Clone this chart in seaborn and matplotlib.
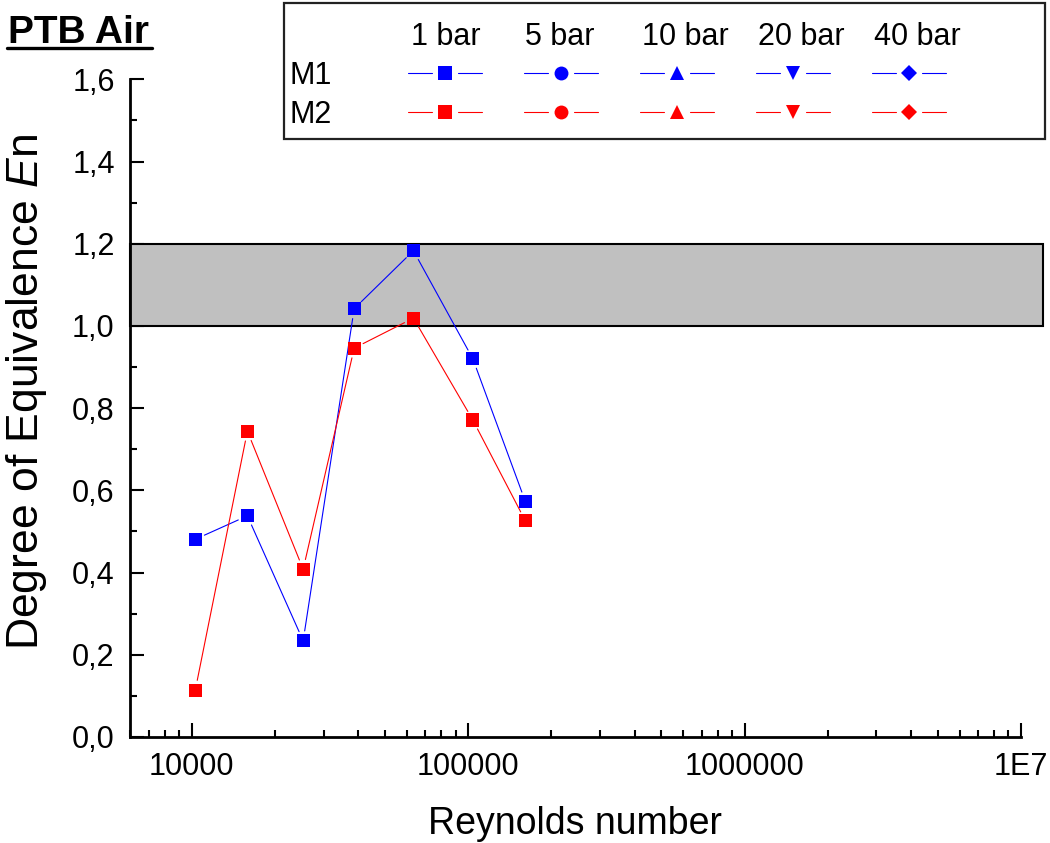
import numpy as np
import pandas as pd
import matplotlib
matplotlib.use("Agg")
import matplotlib.pyplot as plt
from matplotlib.lines import Line2D
from matplotlib.patches import Rectangle
from matplotlib import ticker, transforms
import seaborn as sns

# ---- data ----
reynolds = [10300, 15900, 25300, 38700, 63400, 104000, 161000]
en_m1 = [0.481, 0.538, 0.234, 1.042, 1.183, 0.920, 0.573]
en_m2 = [0.114, 0.744, 0.408, 0.946, 1.019, 0.771, 0.526]
meters = ["M1", "M2"]
pressures = ["1 bar", "5 bar", "10 bar", "20 bar", "40 bar"]
x_ticks = [1e4, 1e5, 1e6, 1e7]
x_tick_labels = ["10000", "100000", "1000000", "1E7"]
y_ticks = [0.0, 0.2, 0.4, 0.6, 0.8, 1.0, 1.2, 1.4, 1.6]
band_low, band_high = 1.0, 1.2

# ---- style ----
sns.set_style("ticks")
plt.rcParams["font.family"] = ["Liberation Sans", "DejaVu Sans"]
plt.rcParams["mathtext.fontset"] = "custom"
plt.rcParams["mathtext.rm"] = "Liberation Sans"
plt.rcParams["mathtext.it"] = "Liberation Sans:italic"
plt.rcParams["text.color"] = "black"
plt.rcParams["axes.edgecolor"] = "black"
plt.rcParams["xtick.color"] = "black"
plt.rcParams["ytick.color"] = "black"
plt.rcParams["xtick.labelcolor"] = "black"
plt.rcParams["ytick.labelcolor"] = "black"

colors = {"M1": "#0000FF", "M2": "#FF0000"}
markers = ["s", "o", "^", "v", "D"]

W, H = 1050, 843
fig = plt.figure(figsize=(W / 100, H / 100), dpi=100)
fig.patch.set_facecolor("white")


def fx(px):
    return px / W


def fy(py):
    return 1 - py / H


ax = fig.add_axes([fx(130), fy(737), (1021 - 130) / W, (737 - 79.3) / H])
ax.set_facecolor("white")
ax.set_xscale("log")
ax.set_xlim(5980, 1e7)
ax.set_ylim(0, 1.6)

df = pd.DataFrame({
    "Re": reynolds * 2,
    "En": en_m1 + en_m2,
    "meter": ["M1"] * len(reynolds) + ["M2"] * len(reynolds),
})

# reference band 1.0 .. 1.2, running a little past the axis end
band_tf = transforms.blended_transform_factory(ax.transAxes, ax.transData)
ax.add_patch(Rectangle((0, band_low), 1.0247, band_high - band_low,
                       transform=band_tf, facecolor="#C0C0C0",
                       edgecolor="black", linewidth=1.5, clip_on=False,
                       zorder=1))

sns.scatterplot(data=df, x="Re", y="En", hue="meter", palette=colors,
                marker="s", s=90, linewidth=0, legend=False, ax=ax, zorder=4)
ax.set_xscale("log")
ax.set_xlim(5980, 1e7)
ax.set_ylim(0, 1.6)


def gapped_segments(xs, ys, gap_px):
    pts = ax.transData.transform(np.column_stack([xs, ys]))
    inv = ax.transData.inverted()
    segs = []
    for p0, p1 in zip(pts[:-1], pts[1:]):
        d = p1 - p0
        length = np.hypot(*d)
        if length <= 2 * gap_px:
            continue
        u = d / length
        segs.append(inv.transform(np.array([p0 + u * gap_px, p1 - u * gap_px])))
    return segs


for name, vals in (("M1", en_m1), ("M2", en_m2)):
    for seg in gapped_segments(reynolds, vals, 10):
        ax.plot(seg[:, 0], seg[:, 1], color=colors[name], linewidth=0.8,
                zorder=3)

# ---- axes cosmetics ----
sns.despine(ax=ax)
for side in ("left", "bottom"):
    ax.spines[side].set_linewidth(2)
    ax.spines[side].set_color("black")
    ax.spines[side].set_zorder(5)

ax.xaxis.set_major_locator(ticker.FixedLocator(x_ticks))
ax.xaxis.set_major_formatter(ticker.FixedFormatter(x_tick_labels))
ax.xaxis.set_minor_locator(ticker.LogLocator(base=10, subs=np.arange(2, 10)))
ax.xaxis.set_minor_formatter(ticker.NullFormatter())
ax.yaxis.set_major_locator(ticker.FixedLocator(y_ticks))
ax.yaxis.set_major_formatter(
    ticker.FuncFormatter(lambda v, p: f"{v:.1f}".replace(".", ",")))
ax.yaxis.set_minor_locator(ticker.MultipleLocator(0.1))

ax.tick_params(which="both", direction="in", width=1.5, color="black",
               labelcolor="black", top=False, right=False)
ax.tick_params(which="major", length=10, labelsize=22, pad=11)
ax.tick_params(which="minor", length=5)
ax.set_xlabel("")
ax.set_ylabel("")

fig.text(fx(575), fy(834), "Reynolds number", fontsize=27,
         ha="center", va="baseline")
fig.text(fx(27), fy(392), r"Degree of Equivalence $\mathit{E}$n",
         fontsize=32, rotation=90, ha="center", va="center")

# ---- title ----
fig.text(fx(8), fy(43), "PTB Air", fontsize=28, fontweight="bold",
         ha="left", va="baseline")
fig.add_artist(Line2D([fx(7), fx(152)], [fy(48), fy(48)], color="black",
                      linewidth=2.4, transform=fig.transFigure))

# ---- legend table ----
fig.add_artist(Rectangle((fx(284), fy(139)), (1045 - 284) / W, (139 - 3) / H,
                         transform=fig.transFigure, facecolor="white",
                         edgecolor="#222222", linewidth=1.6, zorder=6))
col_x = [445, 561, 677, 793, 909]
head_x = [446, 560, 685, 801, 917]
row_y = {"M1": 73, "M2": 112}
for hx, label in zip(head_x, pressures):
    fig.text(fx(hx), fy(45), label, fontsize=22, ha="center",
             va="baseline", zorder=7)
for name in meters:
    fig.text(fx(289), fy(row_y[name] + 11), name, fontsize=22, ha="left",
             va="baseline", zorder=7)
    for cx, mk in zip(col_x, markers):
        yy = fy(row_y[name])
        for a, b in ((cx - 37, cx - 13), (cx + 13, cx + 37)):
            fig.add_artist(Line2D([fx(a), fx(b)], [yy, yy],
                                  color=colors[name], linewidth=0.8,
                                  transform=fig.transFigure, zorder=7))
        ms = 8.5 if mk == "D" else 10
        fig.add_artist(Line2D([fx(cx)], [yy], marker=mk, markersize=ms,
                              color=colors[name], markeredgewidth=0,
                              linestyle="none", transform=fig.transFigure,
                              zorder=8))

fig.savefig("out.png", dpi=100, facecolor="white")
